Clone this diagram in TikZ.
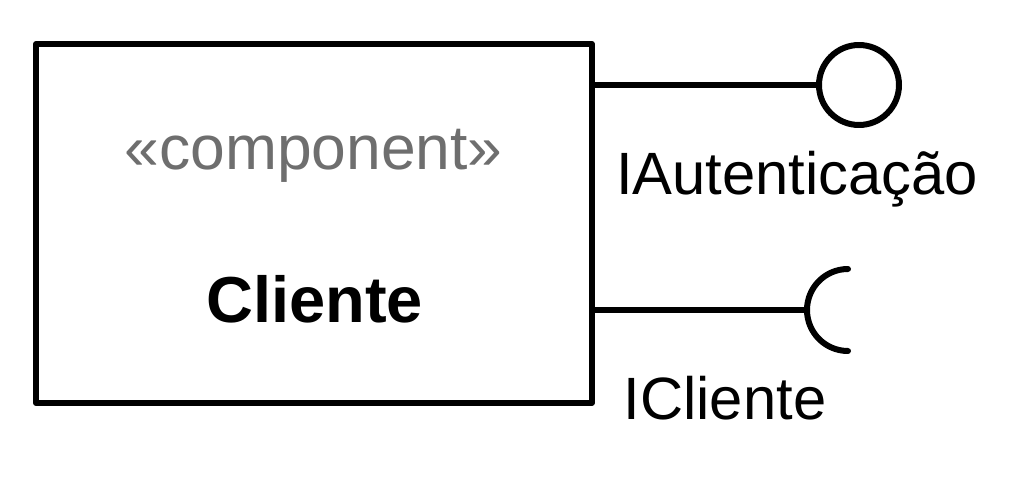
\documentclass[tikz,border=0pt]{standalone}
\usepackage{fontspec}
\setmainfont{Liberation Sans}
\usepackage{xcolor}
\usepackage{tikz}
\usetikzlibrary{positioning}

\begin{document}
\begin{tikzpicture}[x=0.02cm, y=-0.02cm, line width=0.12cm,
    every node/.style={inner sep=0pt, outer sep=0pt},
    compbox/.style={draw, line join=round, minimum width=11.12cm, minimum height=7.18cm},
    lolli/.style={draw, circle, minimum size=1.6cm},
    lbl/.style={font=\fontsize{34}{40}\selectfont, anchor=base}]
  \useasboundingbox (0,0) rectangle (1012,486);
  % component
  \node[compbox] (cliente) at (314,223.5) {};
  \node[lbl, font=\fontsize{35.5}{42}\selectfont, text=black!57] (stereo) at (313.5,170) {«component»};
  \node[lbl, font=\fontsize{37}{44}\selectfont\bfseries] (nome) at (314.5,323) {Cliente};
  % provided interface
  \node[lolli] (iaut) at (859,85) {};
  \draw (cliente.east |- iaut) -- (iaut.west);
  \node[lbl] (iautlbl) at (797,195) {IAutenticação};
  % required interface
  \coordinate (icli) at (807,310);
  \draw (cliente.east |- icli) -- (icli);
  \draw[line cap=round] (icli) ++(41,41) arc[start angle=90, end angle=270, radius=41];
  \node[lbl] (iclilbl) at (725,420) {ICliente};
\end{tikzpicture}
\end{document}
